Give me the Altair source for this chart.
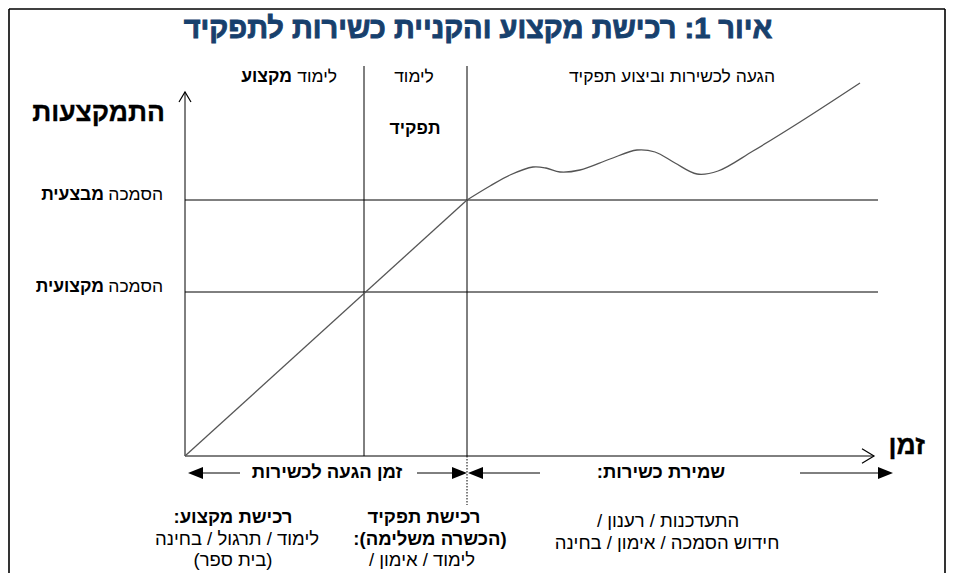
import altair as alt
import pandas as pd

# Diagram units: t = time (to the right of the origin), e = expertise (above the origin)
T_DOMAIN = [-177, 761]
E_DOMAIN = [-117, 448]

# Axes of the schematic
axis_top = 364          # vertical arrow top
axis_right = 689        # horizontal arrow end
# Qualification levels (horizontal lines)
levels = [256, 164]
level_end = 693
# Phase boundaries (vertical lines)
phases = [179, 282]
phase_top = 390
dotted_bottom = -49

# Learning line (straight part) and competence curve
diag_t = [0, 282]
diag_e = [0, 256]
curve_t = [282, 305, 325, 348, 361, 375, 395, 425, 452, 470, 490, 512, 533, 568, 615, 675]
curve_e = [256, 270, 281, 289, 288, 284, 286, 297, 306, 304, 293, 282, 285, 305, 334, 373]

# Arrow row under the time axis
arrow_row = -17
shaft_from = [12, 232, 292, 615]
shaft_to = [55, 273, 355, 702]
head_left_t = [3, 283]
head_right_t = [282, 708]

# Frame
frame_left, frame_right, frame_top, frame_bottom = -176, 760, 447, -117


def rtl(s):
    return "\u202b" + s + "\u202c"


segs = pd.DataFrame({
    "t": [0, 0] + [0] * len(levels) + phases + shaft_from,
    "e": [0, 0] + levels + [0] * len(phases) + [arrow_row] * len(shaft_from),
    "t2": [0, axis_right] + [level_end] * len(levels) + phases + shaft_to,
    "e2": [axis_top, 0] + levels + [phase_top] * len(phases) + [arrow_row] * len(shaft_from),
})
frame = pd.DataFrame({
    "t": [frame_left, frame_left, frame_right],
    "e": [frame_bottom, frame_top, frame_bottom],
    "t2": [frame_left, frame_right, frame_right],
    "e2": [frame_top, frame_top, frame_top],
})
dotted = pd.DataFrame({"t": [phases[1]], "e": [0], "t2": [phases[1]], "e2": [dotted_bottom]})
diag = pd.DataFrame({"t": diag_t, "e": diag_e})
curve = pd.DataFrame({"t": curve_t, "e": curve_e})

xs = alt.Scale(domain=T_DOMAIN, nice=False, zero=False)
ys = alt.Scale(domain=E_DOMAIN, nice=False, zero=False)
X = alt.X("t:Q", scale=xs, axis=None)
Y = alt.Y("e:Q", scale=ys, axis=None)

FONT = "Liberation Sans"

rules = alt.Chart(segs).mark_rule(color="black", strokeWidth=1).encode(
    x=X, y=Y, x2="t2:Q", y2="e2:Q")
frame_l = alt.Chart(frame).mark_rule(color="black", strokeWidth=1.6).encode(
    x=X, y=Y, x2="t2:Q", y2="e2:Q")
dot_l = alt.Chart(dotted).mark_rule(color="black", strokeWidth=1, strokeDash=[1.5, 1.5]).encode(
    x=X, y=Y, x2="t2:Q", y2="e2:Q")
diag_l = alt.Chart(diag).mark_line(color="#555555", strokeWidth=1.3).encode(x=X, y=Y)
curve_l = alt.Chart(curve).mark_line(color="#555555", strokeWidth=1.3, interpolate="catmull-rom").encode(x=X, y=Y)

heads_r = alt.Chart(pd.DataFrame({"t": head_right_t, "e": [arrow_row] * 2})).mark_point(
    shape="M 0 0 L -1 -0.4 L -1 0.4 Z", size=900, filled=True, color="black", opacity=1,
    strokeWidth=0).encode(x=X, y=Y)
heads_l = alt.Chart(pd.DataFrame({"t": head_left_t, "e": [arrow_row] * 2})).mark_point(
    shape="M 0 0 L 1 -0.4 L 1 0.4 Z", size=900, filled=True, color="black", opacity=1,
    strokeWidth=0).encode(x=X, y=Y)
chev_up = alt.Chart(pd.DataFrame({"t": [0], "e": [axis_top]})).mark_point(
    shape="M -0.6 1 L 0 0 L 0.6 1", size=400, filled=False, color="black", opacity=1,
    strokeWidth=1.2).encode(x=X, y=Y)
chev_right = alt.Chart(pd.DataFrame({"t": [axis_right], "e": [0]})).mark_point(
    shape="M -1 -0.6 L 0 0 L -1 0.6", size=576, filled=False, color="black", opacity=1,
    strokeWidth=1.2).encode(x=X, y=Y)

# Texts
title_text = ["איור 1: רכישת מקצוע והקניית כשירות לתפקיד"]
title_t, title_e = [293], [427]

big_text = ["התמקצעות", "זמן"]
big_t = [-20, 740]
big_e = [343, 10]

reg_right_text = ["הסמכה", "הסמכה", "לימוד"]
reg_right_t = [-22, -22, 152]
reg_right_e = [261, 169, 379]

bold_right_text = ["מבצעית", "מקצועית", "מקצוע"]
bold_right_t = [-81, -81, 107]
bold_right_e = [261, 169, 379]

reg_center_text = ["לימוד", "הגעה לכשירות וביצוע תפקיד"]
reg_center_t = [229, 487]
reg_center_e = [379, 379]

bold_center_text = ["תפקיד"]
bold_center_t = [230]
bold_center_e = [327]

bottom_bold_text = ["זמן הגעה לכשירות", "שמירת כשירות:", "רכישת מקצוע:", "רכישת תפקיד", "(הכשרה משלימה):"]
bottom_bold_t = [142, 476, 48, 239, 245]
bottom_bold_e = [-16, -16, -61, -61, -83]

bottom_reg_text = ["לימוד / תרגול / בחינה", "(בית ספר)", "לימוד / אימון /", "התעדכנות / רענון /", "חידוש הסמכה / אימון / בחינה"]
bottom_reg_t = [52, 48, 237, 483, 482]
bottom_reg_e = [-83, -104, -104, -65, -87]


def tdf(texts, ts, es):
    return pd.DataFrame({"label": [rtl(s) for s in texts], "t": ts, "e": es})


def text_layer(df, size, weight, align, color="black", stroke_w=0):
    kw = {}
    if stroke_w:
        kw = {"stroke": color, "strokeWidth": stroke_w}
    return alt.Chart(df).mark_text(font=FONT, fontSize=size, fontWeight=weight, align=align,
                                   baseline="middle", color=color, **kw).encode(
        x=X, y=Y, text="label:N")


layers = [
    frame_l, rules, dot_l, diag_l, curve_l, heads_r, heads_l, chev_up, chev_right,
    text_layer(tdf(title_text, title_t, title_e), 29, "bold", "center", "#17406d", 0.9),
    text_layer(tdf(big_text, big_t, big_e), 26.5, "bold", "right", "black", 0.3),
    text_layer(tdf(reg_right_text, reg_right_t, reg_right_e), 17.5, "normal", "right"),
    text_layer(tdf(bold_right_text, bold_right_t, bold_right_e), 17.5, "bold", "right"),
    text_layer(tdf(reg_center_text, reg_center_t, reg_center_e), 17.5, "normal", "center"),
    text_layer(tdf(bold_center_text, bold_center_t, bold_center_e), 17.5, "bold", "center"),
    text_layer(tdf(bottom_bold_text, bottom_bold_t, bottom_bold_e), 18.5, "bold", "center"),
    text_layer(tdf(bottom_reg_text, bottom_reg_t, bottom_reg_e), 18.5, "normal", "center"),
]

chart = alt.layer(*layers).properties(
    width=938, height=565, autosize=alt.AutoSizeParams(type="none"), padding=0,
    background="white",
).configure_view(stroke=None)

chart.save("out.html", embed_options={"renderer": "svg", "actions": False})
